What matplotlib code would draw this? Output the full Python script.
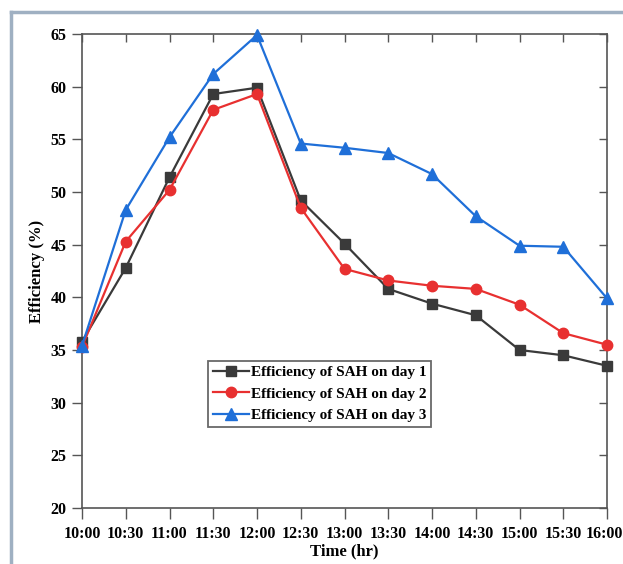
import matplotlib
matplotlib.use("Agg")
import matplotlib.pyplot as plt
from matplotlib.lines import Line2D
from matplotlib.transforms import ScaledTranslation

times = ["10:00", "10:30", "11:00", "11:30", "12:00", "12:30", "13:00",
         "13:30", "14:00", "14:30", "15:00", "15:30", "16:00"]
day1 = [35.8, 42.8, 51.4, 59.3, 59.9, 49.2, 45.1, 40.8, 39.4, 38.3, 35.0, 34.5, 33.5]
day2 = [35.3, 45.3, 50.2, 57.8, 59.3, 48.5, 42.7, 41.6, 41.1, 40.8, 39.3, 36.6, 35.5]
day3 = [35.4, 48.3, 55.2, 61.2, 64.9, 54.6, 54.2, 53.7, 51.7, 47.7, 44.9, 44.8, 39.9]
y_ticks = [20, 25, 30, 35, 40, 45, 50, 55, 60, 65]

plt.rcParams['font.family'] = ['Liberation Serif', 'DejaVu Serif']
plt.rcParams['font.weight'] = 'bold'

fig = plt.figure(figsize=(6.23, 5.64), dpi=100)
ax = fig.add_axes([82/623, 56/564, 525/623, 474/564])

x = list(range(len(times)))
ax.plot(x, day1, color='#3a3a3a', marker='s', ms=7, lw=1.6, label='Efficiency of SAH on day 1', clip_on=False, zorder=3)
ax.plot(x, day2, color='#e83030', marker='o', ms=7.5, lw=1.6, label='Efficiency of SAH on day 2', clip_on=False, zorder=3)
ax.plot(x, day3, color='#1f6fd8', marker='^', ms=8, lw=1.6, label='Efficiency of SAH on day 3', clip_on=False, zorder=4)

ax.set_xlim(0, 12)
ax.set_ylim(20, 65)
ax.set_xticks(x)
ax.set_xticklabels(times)
ax.set_yticks(y_ticks)
for lab in ax.get_xticklabels() + ax.get_yticklabels():
    lab.set_fontweight('bold')
    lab.set_fontsize(11.5)
ax.tick_params(axis='x', which='major', direction='out', length=8, width=1, color='#555555', pad=5)
ax.tick_params(axis='y', which='major', direction='out', length=7, width=1, color='#555555', pad=4)
ax.tick_params(top=True, right=True)
for t in ax.xaxis.get_major_ticks():
    t.tick2line.set_marker(3)  # inward at top
    t.tick2line.set_markersize(6)
for t in ax.yaxis.get_major_ticks():
    t.tick2line.set_marker(0)  # inward at right
    t.tick2line.set_markersize(6)

# nudge last x label so it stays within the image
last = ax.get_xticklabels()[-1]
last.set_transform(last.get_transform() + ScaledTranslation(-3/100, 0, fig.dpi_scale_trans))

for s in ax.spines.values():
    s.set_color('#555555')
    s.set_linewidth(1.2)

ax.set_xlabel('Time (hr)', fontsize=12, fontweight='bold', labelpad=1)
ax.set_ylabel('Efficiency (%)', fontsize=12, fontweight='bold', labelpad=4)

leg = ax.legend(loc='upper left', bbox_to_anchor=(0.24, 0.31), fontsize=11,
                frameon=True, fancybox=False, edgecolor='#444444',
                borderpad=0.3, labelspacing=0.5, handlelength=2.4, handletextpad=0.1,
                borderaxespad=0)
leg.get_frame().set_linewidth(1.3)
for t in leg.get_texts():
    t.set_fontweight('bold')

# image border (left and top)
fig.add_artist(Line2D([11/623, 11/623], [0, 1 - 12/564], transform=fig.transFigure, color='#9fb0c2', lw=2.5))
fig.add_artist(Line2D([11/623, 1], [1 - 12/564, 1 - 12/564], transform=fig.transFigure, color='#9fb0c2', lw=2.5))

fig.savefig('out.png', dpi=100)
